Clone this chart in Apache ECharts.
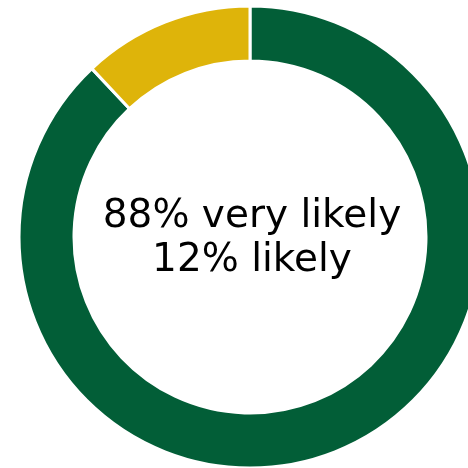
<!DOCTYPE html>
<html>
<head>
<meta charset="utf-8">
<script src="https://cdn.jsdelivr.net/npm/echarts@6/dist/echarts.min.js"></script>
<style>
  html, body { margin: 0; padding: 0; background: #fff; }
  #chart { width: 468px; height: 468px; }
</style>
</head>
<body>
<div id="chart"></div>
<script>
// 数据
const categories = ["very likely", "likely"];
const values = [88, 12];
const colors = ["#025E37", "#DEB40A"];

const chart = echarts.init(document.getElementById("chart"));

const centerLines = categories.map((name, i) => values[i] + "% " + name);

chart.setOption({
  animation: false,
  series: [
    {
      type: "pie",
      center: [250, 237],
      radius: [176, 231],
      startAngle: 90,
      clockwise: true,
      label: { show: false },
      labelLine: { show: false },
      itemStyle: { borderColor: "#fff", borderWidth: 3 },
      data: categories.map((name, i) => ({
        name: name,
        value: values[i],
        itemStyle: { color: colors[i] }
      }))
    }
  ],
  graphic: [
    {
      type: "text",
      x: 252,
      y: 239,
      style: {
        text: centerLines.join("\n"),
        textAlign: "center",
        textVerticalAlign: "middle",
        font: "39px 'DejaVu Sans'",
        lineHeight: 44,
        fill: "#000"
      }
    }
  ]
});
</script>
</body>
</html>
